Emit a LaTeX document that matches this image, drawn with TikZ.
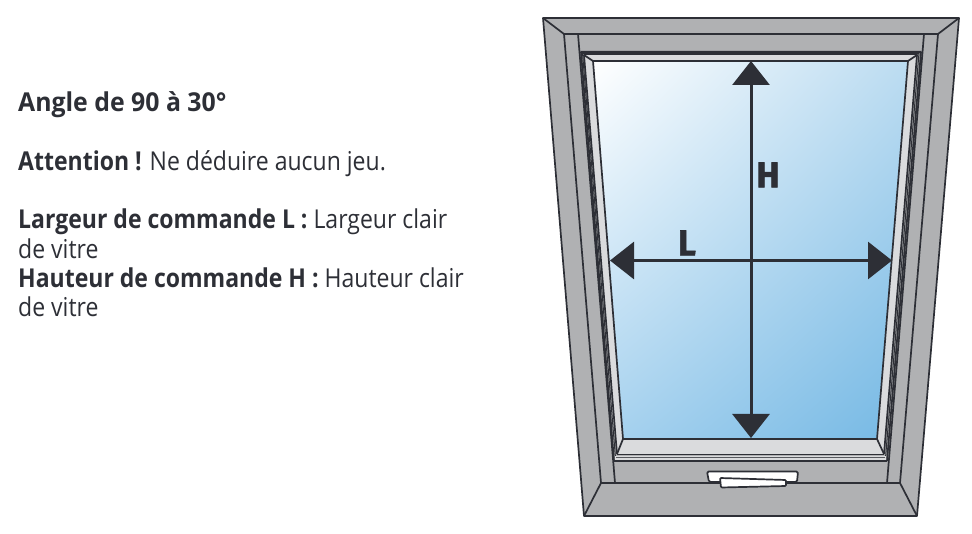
\documentclass[tikz,border=0pt]{standalone}
\usepackage{fontspec}
\setmainfont{Open Sans}
\newfontfamily\bigfont[FakeStretch=0.96,FakeBold=1.5]{Fira Sans}
\usetikzlibrary{arrows.meta,shadings}
\definecolor{ink}{HTML}{2D2F36}
\definecolor{frame}{HTML}{B0B1B3}
\definecolor{pale}{HTML}{DADBDD}
\definecolor{glassA}{HTML}{BCDCF1}
\definecolor{glassB}{HTML}{A9D3EF}
\definecolor{glassC}{HTML}{74B8E4}
\tikzset{
  x=1pt,y=-1pt,
  edge/.style={draw=ink,line width=1.7pt,line join=round},
  thin edge/.style={draw=ink,line width=1pt},
  txt/.style={anchor=base west,inner sep=0pt,text=ink,font=\fontsize{26}{30}\selectfont\addfontfeature{FakeStretch=0.885}},
  dim/.style={draw=ink,line width=3pt,{Triangle[length=24pt,width=37pt]}-{Triangle[length=24pt,width=37pt]}},
  letter/.style={inner sep=0pt,text=ink,font=\bigfont\bfseries\fontsize{36}{36}\selectfont},
}
\begin{document}
\begin{tikzpicture}
\useasboundingbox (0,0) rectangle (972,534);
% outer frame
\draw[edge,fill=frame] (543,18) -- (959,18) -- (917,516) -- (584,516) -- cycle;
\draw[edge] (543,18) -- (564,34) -- (938,34) -- (959,18);
\draw[edge] (584,516) -- (601,483) -- (900,483) -- (917,516);
\draw[edge] (564,34) -- (601,483);
\draw[edge] (938,34) -- (900,483);
\draw[edge] (578,34) -- (615,483);
\draw[edge] (924,34) -- (887,483);
% dark sash edges
\fill[ink] (580,51) -- (922,51) -- (917,55) -- (584,55) -- cycle;
\fill[pale] (584,55) -- (917,55) -- (884,454) -- (617,454) -- cycle;
\draw[edge] (581,52) -- (614,461);
\draw[thin edge] (582.5,53) -- (615.5,458);
\draw[edge] (584,55) -- (617,454);
\draw[edge] (921,52) -- (887,461);
\draw[thin edge] (919,53) -- (885.5,458);
\draw[edge] (917,55) -- (884,454);
\draw[edge] (580,52.5) -- (922,52.5);
\draw[line width=2pt,draw=ink] (584,54.5) -- (917,54.5);
% bottom rail
\fill[pale] (615,456) rectangle (886,460);
\draw[line width=1.8pt,draw=ink] (617,454.5) -- (884,454.5);
\draw[edge] (614,461) -- (887,461);
\draw[line width=1pt,draw=ink!80] (616,457.5) -- (885,457.5);
% glass
\shade[upper left=white,upper right=glassA,lower left=glassB,lower right=glassC]
  (593,61) -- (908,61) -- (877,439) -- (623,439) -- cycle;
\draw[edge] (593,61) -- (908,61) -- (877,439) -- (623,439) -- cycle;
\draw[edge] (584,55) -- (593,61);
\draw[edge] (917,55) -- (908,61);
\draw[edge] (617,454) -- (623,439);
\draw[edge] (884,454) -- (877,439);
% handle
\draw[edge,fill=white,rounded corners=1.5pt] (707,471.5) -- (798,471.5) -- (797,482) -- (709,482) -- cycle;
\draw[edge,fill=white,rounded corners=1pt] (720,478) -- (786,480) -- (786,486) -- (721,487.5) -- cycle;
% dimensions
\coordinate (top) at (751,61);
\coordinate (bottom) at (751,438);
\coordinate (left) at (610,260.5);
\coordinate (right) at (892,260.5);
\draw[dim] (top) -- (bottom);
\draw[dim] (left) -- (right);
\node[letter] (H) at (768,175) {H};
\node[letter] (L) at (687,243) {L};
% text
\node[txt] (t1) at (18,112) {\addfontfeature{FakeStretch=0.955}\textbf{Angle de 90 à 30°}};
\node[txt] (t2) at (18,171) {\textbf{Attention !} Ne déduire aucun jeu.};
\node[txt] (t3) at (18,229) {\textbf{Largeur de commande L :} Largeur clair};
\node[txt] (t4) at (18,259) {de vitre};
\node[txt] (t5) at (18,288) {\textbf{Hauteur de commande H :} Hauteur clair};
\node[txt] (t6) at (18,317) {de vitre};
\end{tikzpicture}
\end{document}
